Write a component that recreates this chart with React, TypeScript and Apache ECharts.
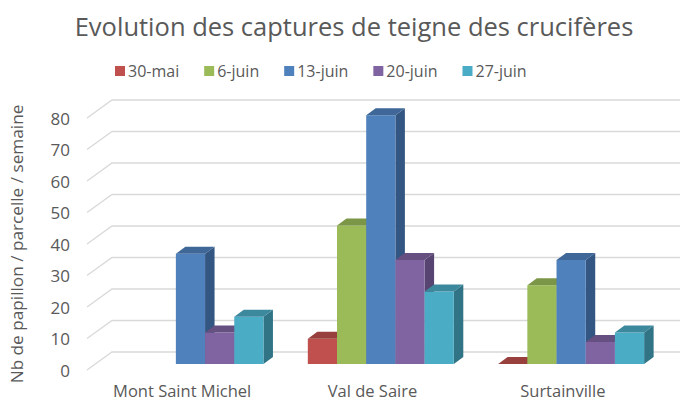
import React, { useEffect, useRef } from "react";
import * as echarts from "echarts";

const categories = ["Mont Saint Michel", "Val de Saire", "Surtainville"];
const seriesNames = ["30-mai", "6-juin", "13-juin", "20-juin", "27-juin"];
const v30mai: (number | null)[] = [null, 8, 0];
const v6juin: (number | null)[] = [null, 44, 25];
const v13juin: (number | null)[] = [35, 79, 33];
const v20juin: (number | null)[] = [10, 33, 7];
const v27juin: (number | null)[] = [15, 23, 10];
const yTicks = [0, 10, 20, 30, 40, 50, 60, 70, 80];

const frontColors = ["#C0504D", "#9BBB59", "#4F81BD", "#8064A2", "#4BACC6"];
const topColors = ["#98403D", "#7B9646", "#3F6797", "#665081", "#3C899E"];
const sideColors = ["#853735", "#6A823D", "#345682", "#574470", "#317486"];

const DEPTH_X = 25;
const DEPTH_Y = -18;
const BAR_OFF_X = 8.3;
const BAR_OFF_Y = -6;
const BAR_D_X = 9.5;
const BAR_D_Y = -7;

export default function App() {
  const ref = useRef<HTMLDivElement>(null);
  useEffect(() => {
    if (!ref.current) return;
    const chart = echarts.init(ref.current, null, { renderer: "svg" });
    const allValues = [v30mai, v6juin, v13juin, v20juin, v27juin];
    const font = "'Open Sans', 'Noto Sans', sans-serif";

    const gridSeries: any = {
      type: "custom",
      name: "__grid",
      silent: true,
      z: 1,
      clip: false,
      data: yTicks.map((t) => [0, t]),
      renderItem: (params: any, api: any) => {
        const cs = params.coordSys;
        const y = api.coord([0, api.value(1)])[1];
        return {
          type: "polyline",
          shape: {
            points: [
              [cs.x, y],
              [cs.x + DEPTH_X, y + DEPTH_Y],
              [cs.x + cs.width + DEPTH_X + 40, y + DEPTH_Y],
            ],
          },
          style: { stroke: "#D9D9D9", lineWidth: 1.3, fill: null },
        };
      },
    };

    const barSeries = allValues.map((vals, si) => ({
      type: "custom",
      name: seriesNames[si],
      z: 2 + si,
      clip: false,
      itemStyle: { color: frontColors[si] },
      data: vals.map((v, ci) => [ci, v]),
      renderItem: (params: any, api: any) => {
        const raw = vals[params.dataIndex];
        if (raw === null || raw === undefined) return null;
        const ci = api.value(0);
        const band = api.size([1, 0])[0];
        const groupW = band * 0.767;
        const bw = groupW / 5;
        const c = api.coord([ci, 0])[0];
        const x = c + BAR_OFF_X - groupW / 2 + si * bw;
        const yBase = api.coord([ci, 0])[1] + BAR_OFF_Y;
        const yTop = api.coord([ci, raw])[1] + BAR_OFF_Y;
        const children: any[] = [];
        if (yBase - yTop > 0.5) {
          children.push({
            type: "polygon",
            shape: {
              points: [
                [x + bw, yTop],
                [x + bw + BAR_D_X, yTop + BAR_D_Y],
                [x + bw + BAR_D_X, yBase + BAR_D_Y],
                [x + bw, yBase],
              ],
            },
            style: { fill: sideColors[si] },
          });
          children.push({
            type: "rect",
            shape: { x: x, y: yTop, width: bw, height: yBase - yTop },
            style: { fill: frontColors[si] },
          });
        }
        children.push({
          type: "polygon",
          shape: {
            points: [
              [x, yTop],
              [x + BAR_D_X, yTop + BAR_D_Y],
              [x + bw + BAR_D_X, yTop + BAR_D_Y],
              [x + bw, yTop],
            ],
          },
          style: { fill: topColors[si] },
        });
        return { type: "group", children };
      },
    }));

    chart.setOption({
      animation: false,
      backgroundColor: "#FFFFFF",
      title: {
        text: "Evolution des captures de teigne des crucifères",
        left: 349,
        textAlign: "center",
        top: 8,
        textStyle: { fontFamily: font, fontSize: 25.5, fontWeight: "normal", color: "#595959" },
      },
      legend: {
        data: seriesNames.map((n) => ({ name: n, icon: "rect" })),
        left: 110,
        top: 58,
        itemWidth: 10,
        itemHeight: 10,
        itemGap: 25,
        textStyle: { fontFamily: font, fontSize: 16, color: "#595959", padding: [0, 0, 0, -2] },
      },
      grid: { left: 85, right: 22, top: 118, bottom: 31 },
      xAxis: {
        type: "category",
        data: categories,
        axisLine: { show: false },
        axisTick: { show: false },
        splitLine: { show: false },
        axisLabel: { fontFamily: font, fontSize: 16.5, color: "#595959", margin: 12 },
      },
      yAxis: {
        type: "value",
        min: 0,
        max: 80,
        interval: 10,
        name: "Nb de papillon / parcelle / semaine",
        nameLocation: "middle",
        nameGap: 62,
        nameTextStyle: { fontFamily: font, fontSize: 17.2, color: "#595959" },
        axisLine: { show: false },
        axisTick: { show: false },
        splitLine: { show: false },
        axisLabel: { fontFamily: font, fontSize: 17, color: "#595959", margin: 17 },
      },
      series: [gridSeries, ...barSeries],
    });
    return () => chart.dispose();
  }, []);
  return (
    <div
      ref={ref}
      style={{ position: "absolute", left: 0, top: 0, width: 680, height: 401 }}
    />
  );
}
